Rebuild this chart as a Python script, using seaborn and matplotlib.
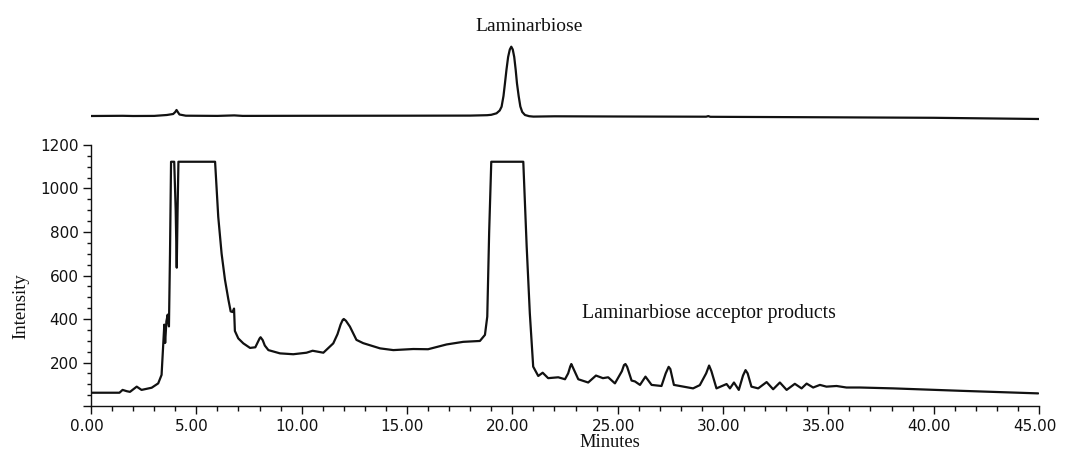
import numpy as np
import pandas as pd
import matplotlib
matplotlib.use("Agg")
import matplotlib.pyplot as plt
import matplotlib.transforms as mtransforms
import seaborn as sns

# Reference standard trace (laminarbiose), arbitrary detector units
std_time = [0.0, 1.5, 2.0, 3.0, 3.6, 3.9, 4.0, 4.06, 4.12, 4.2, 4.5, 6.0, 6.8, 7.2,
            10.0, 15.0, 18.0, 18.8, 19.0, 19.25, 19.4, 19.49, 19.58, 19.65, 19.72, 19.8,
            19.88, 19.95, 20.02, 20.09, 20.16, 20.22, 20.3, 20.38, 20.47, 20.6, 20.8, 21.0,
            22.0, 25.0, 29.2, 29.3, 29.4, 35.0, 40.0, 45.0]
std_signal = [10.0, 10.2, 10.0, 10.1, 11.0, 12.0, 14.0, 16.0, 14.0, 11.5, 10.3, 10.1, 10.6, 10.1,
              10.2, 10.3, 10.4, 10.8, 11.2, 12.7, 15.5, 19.3, 30.0, 42.7, 56.0, 69.0,
              76.5, 79.3, 76.5, 69.0, 56.0, 42.7, 30.0, 19.5, 14.0, 11.0, 9.8, 9.4,
              9.7, 9.5, 9.3, 9.9, 9.2, 8.7, 8.2, 7.0]

# Reaction mixture trace (detector saturates near 1123)
rxn_time = [0.0, 1.35, 1.5, 1.7, 1.85, 2.17, 2.4, 2.88, 3.19, 3.35, 3.43, 3.48, 3.52, 3.58,
            3.64, 3.70, 3.75, 3.80, 3.95, 4.02, 4.07, 4.11, 4.15, 5.89, 6.04, 6.2, 6.36,
            6.52, 6.63, 6.72, 6.79, 6.83, 6.99, 7.23, 7.55, 7.8, 7.9, 8.0, 8.05, 8.15,
            8.25, 8.42, 8.97, 9.6, 10.23, 10.52, 11.03, 11.5, 11.7, 11.85, 11.95, 12.0,
            12.1, 12.2, 12.29, 12.6, 12.92, 13.72, 14.35, 15.3, 16.0, 16.88, 17.67, 18.46,
            18.7, 18.81, 18.9, 19.0, 20.52, 20.68, 20.83, 20.99, 21.23, 21.44, 21.7, 22.18,
            22.5, 22.65, 22.75, 22.8, 22.9, 23.13, 23.6, 23.97, 24.3, 24.55, 24.87, 25.2,
            25.3, 25.37, 25.45, 25.66, 25.82, 26.06, 26.32, 26.61, 27.08, 27.28, 27.42, 27.5,
            27.67, 28.58, 28.9, 29.2, 29.34, 29.45, 29.69, 30.17, 30.33, 30.52, 30.75, 30.95,
            31.07, 31.17, 31.35, 31.67, 32.07, 32.38, 32.70, 33.02, 33.41, 33.73, 33.97, 34.28,
            34.6, 34.91, 35.39, 35.86, 36.5, 38.08, 41.24, 44.96]
rxn_signal = [61, 61, 74, 68, 65, 89, 74, 84, 104, 143, 290, 374, 290, 390,
              420, 366, 700, 1123, 1123, 900, 636, 900, 1123, 1123, 870, 700, 580,
              490, 435, 432, 448, 345, 311, 288, 267, 270, 290, 310, 316, 303,
              278, 257, 242, 238, 245, 254, 245, 288, 330, 375, 396, 400,
              392, 378, 365, 304, 289, 265, 257, 262, 261, 283, 295, 299,
              327, 411, 800, 1123, 1123, 735, 426, 181, 138, 153, 128, 132,
              123, 150, 182, 193, 172, 123, 108, 140, 128, 132, 104, 160,
              188, 193, 180, 117, 113, 97, 135, 97, 92, 150, 180, 170,
              97, 81, 96, 150, 186, 160, 81, 101, 81, 108, 74, 140,
              165, 150, 89, 81, 110, 77, 108, 74, 102, 81, 103, 85,
              97, 89, 92, 85, 85, 81, 70, 58]

x_ticks = [0, 5, 10, 15, 20, 25, 30, 35, 40, 45]
x_labels = ["0.00", "5.00", "10.00", "15.00", "20.00", "25.00", "30.00", "35.00", "40.00", "45.00"]
y_ticks = [0, 200, 400, 600, 800, 1000, 1200]
y_labels = ["", "200", "400", "600", "800", "1000", "1200"]

std_df = pd.DataFrame({"Minutes": std_time, "Signal": std_signal})
rxn_df = pd.DataFrame({"Minutes": rxn_time, "Intensity": rxn_signal})

sns.set_style("ticks")
plt.rcParams["font.family"] = ["DejaVu Sans"]

W, H = 1067, 461
fig = plt.figure(figsize=(W / 100, H / 100), dpi=100)

def box(left, top, right, bottom):
    return [left / W, 1 - bottom / H, (right - left) / W, (bottom - top) / H]

ax = fig.add_axes(box(91, 145, 1039, 406))
ax_std = fig.add_axes(box(91, 36, 1039, 126), sharex=ax)

ink = "#111111"
lw = 1.6

sns.lineplot(data=rxn_df, x="Minutes", y="Intensity", ax=ax, color=ink, lw=lw,
             estimator=None, sort=False)
sns.lineplot(data=std_df, x="Minutes", y="Signal", ax=ax_std, color=ink, lw=lw,
             estimator=None, sort=False)

# main axes styling
ax.set_xlim(0, 45)
ax.set_ylim(0, 1200)
for s in ["top", "right"]:
    ax.spines[s].set_visible(False)
for s in ["left", "bottom"]:
    ax.spines[s].set_linewidth(1.0)
    ax.spines[s].set_color(ink)
ax.set_xticks(x_ticks)
ax.set_xticklabels(x_labels)
ax.set_yticks(y_ticks)
ax.set_yticklabels(y_labels)
ax.set_xticks(np.arange(0, 46, 1), minor=True)
ax.set_yticks(np.arange(0, 1201, 50), minor=True)
ax.tick_params(axis="x", which="major", length=5.5, width=1.0, color=ink,
               labelsize=11, labelcolor=ink, pad=4)
ax.tick_params(axis="x", which="minor", length=3.6, width=1.0, color=ink)
ax.tick_params(axis="y", which="major", length=6, width=1.0, color=ink,
               labelsize=11, labelcolor=ink, pad=3)
ax.tick_params(axis="y", which="minor", length=3, width=1.0, color=ink)
shift = mtransforms.ScaledTranslation(-4.5 / 100, 0, fig.dpi_scale_trans)
for lab in ax.get_xticklabels():
    lab.set_transform(lab.get_transform() + shift)
ax.set_xlabel("")
ax.set_ylabel("")

# standard trace axes: no frame
ax_std.set_ylim(0, 90)
ax_std.axis("off")

serif = ["Liberation Serif", "DejaVu Serif"]
ax_std.text(20.79, 126 - 30.7, "Laminarbiose", ha="center", va="baseline",
            fontsize=14, family=serif, color=ink)
ax.text(23.3, 403, "Laminarbiose acceptor products", ha="left", va="baseline",
        fontsize=14.2, family=serif, color=ink)

fig.text(21 / W, 1 - 306 / H, "Intensity", rotation=90, ha="center", va="center",
         fontsize=13.5, family=serif, color=ink)
fig.text(610 / W, 1 - 447 / H, "Minutes", ha="center", va="baseline",
         fontsize=13.3, family=serif, color=ink)

fig.savefig("out.png", dpi=100, facecolor="white")
